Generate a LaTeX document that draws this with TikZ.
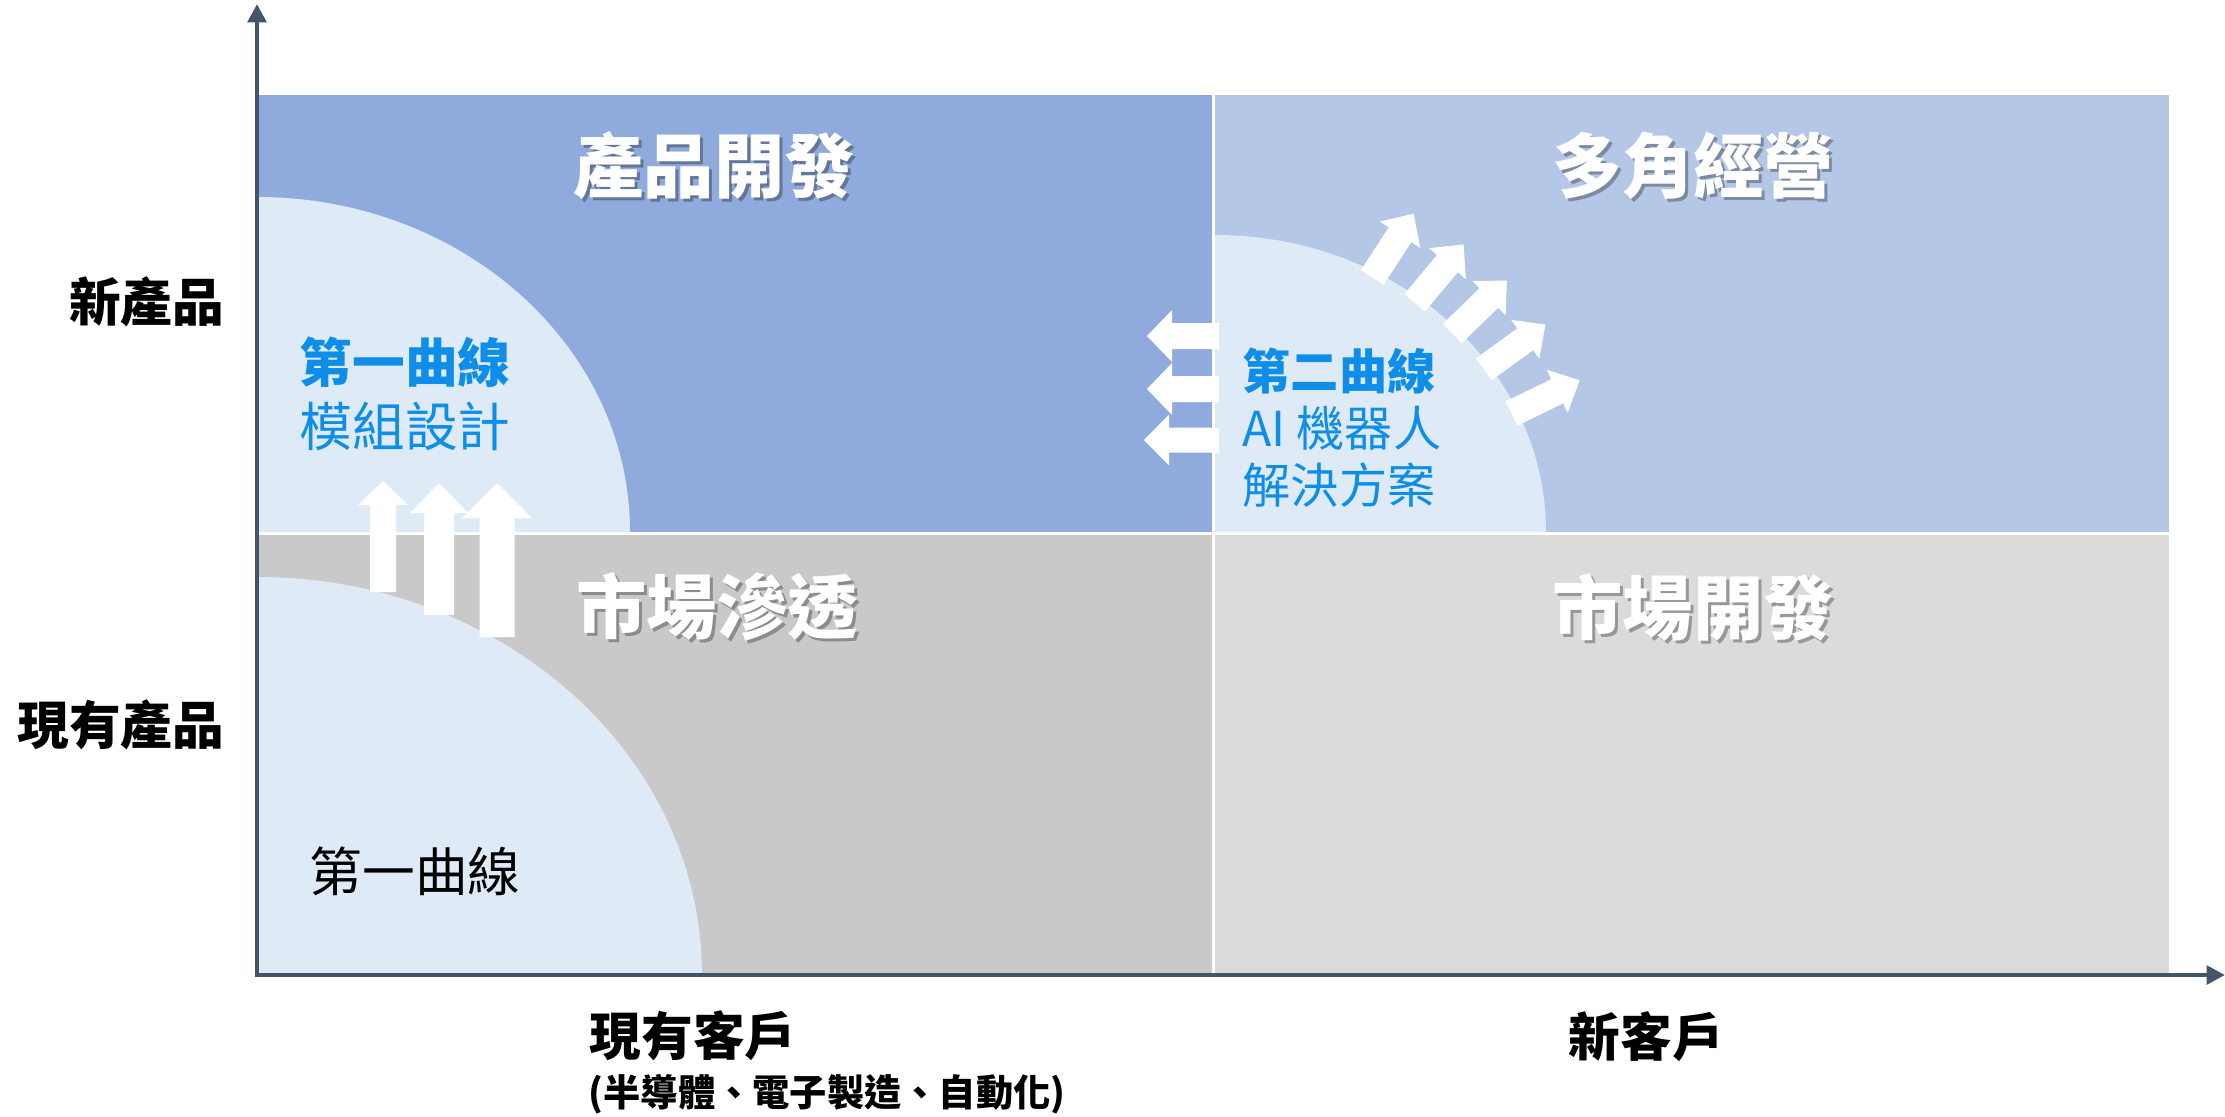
\documentclass[tikz,border=0pt]{standalone}
\usepackage{fontspec}
\setmainfont{Noto Sans CJK TC}
\usetikzlibrary{arrows.meta}
\definecolor{quadTL}{HTML}{8FAADC}
\definecolor{quadTR}{HTML}{B4C7E7}
\definecolor{quadBL}{HTML}{C9C9C9}
\definecolor{quadBR}{HTML}{DBDBDB}
\definecolor{curvefill}{HTML}{DEEBF7}
\definecolor{axisgray}{HTML}{44546A}
\definecolor{curveblue}{HTML}{0F8EE9}
\tikzset{
  axis/.style={draw=axisgray, line width=1.4pt, line cap=rect, -{Triangle[width=5.2pt,length=5.2pt]}},
  quadtitle/.style={text=white, inner sep=0pt, font=\bfseries\fontsize{20pt}{24pt}\selectfont},
  titleshade/.style={quadtitle, text=black, text opacity=0.3},
  axislabel/.style={inner sep=0pt, font=\bfseries\fontsize{14.7pt}{17pt}\selectfont},
  sublabel/.style={inner sep=0pt, font=\bfseries\fontsize{10.6pt}{13pt}\selectfont},
  curvelabel/.style={text=curveblue, align=left, anchor=west, inner sep=0pt},
  pics/fatarrow/.style n args={4}{code={
    \fill[white] (0,-#2) -- ({#1-#4},-#2) -- ({#1-#4},-#3) -- (#1,0) -- ({#1-#4},#3) -- ({#1-#4},#2) -- (0,#2) -- cycle;
  }}
}
\begin{document}
\begin{tikzpicture}
\useasboundingbox (-2.57,-1.41) rectangle (19.68,9.75);
% quadrants
\fill[quadTL] (0,4.43) rectangle (9.55,8.80);
\fill[quadTR] (9.58,4.43) rectangle (19.12,8.80);
\fill[quadBL] (0,0) rectangle (9.55,4.40);
\fill[quadBR] (9.58,0) rectangle (19.12,4.40);
% curves
\fill[curvefill] (0,4.43) -- (3.73,4.43) arc[start angle=0,end angle=90,x radius=3.73,y radius=3.35] -- cycle;
\fill[curvefill] (9.58,4.43) -- (12.89,4.43) arc[start angle=0,end angle=90,x radius=3.31,y radius=2.97] -- cycle;
\fill[curvefill] (0,0) -- (4.45,0) arc[start angle=0,end angle=90,x radius=4.45,y radius=3.98] -- cycle;
% arrows
\pic[rotate=90] at (1.26,3.83) {fatarrow={1.11}{0.13}{0.25}{0.24}};
\pic[rotate=90] at (1.82,3.60) {fatarrow={1.32}{0.15}{0.29}{0.30}};
\pic[rotate=90] at (2.40,3.38) {fatarrow={1.54}{0.175}{0.35}{0.35}};
\pic[rotate=180] at (9.62,6.39) {fatarrow={0.72}{0.13}{0.26}{0.25}};
\pic[rotate=180] at (9.62,5.86) {fatarrow={0.72}{0.13}{0.26}{0.25}};
\pic[rotate=180] at (9.62,5.35) {fatarrow={0.75}{0.125}{0.255}{0.25}};
\foreach \t/\a in {61/57,52/50,43/44,34/36,24/26}
  \pic[rotate=\a] at ({9.58+0.98*3.31*cos(\t)},{4.43+0.98*2.97*sin(\t)}) {fatarrow={0.76}{0.135}{0.24}{0.25}};
% axes
\coordinate (origin) at (0,0);
\coordinate (ytip) at (0,9.71);
\coordinate (xtip) at (19.68,0);
\draw[axis] (origin) -- (ytip);
\draw[axis] (origin) -- (xtip);
% quadrant titles
\node[titleshade] (tlshade) at (4.60,8.06) {產品開發};
\node[quadtitle] (tltitle) at (4.57,8.09) {產品開發};
\node[titleshade] (trshade) at (14.39,8.06) {多角經營};
\node[quadtitle] (trtitle) at (14.36,8.09) {多角經營};
\node[titleshade] (blshade) at (4.63,3.65) {市場滲透};
\node[quadtitle] (bltitle) at (4.60,3.68) {市場滲透};
\node[titleshade] (brshade) at (14.39,3.65) {市場開發};
\node[quadtitle] (brtitle) at (14.36,3.68) {市場開發};
% axis labels
\node[axislabel, anchor=east] (newprod) at (-0.32,6.73) {新產品};
\node[axislabel, anchor=east] (curprod) at (-0.32,2.50) {現有產品};
\node[axislabel, anchor=west] (curcust) at (3.32,-0.61) {現有客戶};
\node[sublabel, anchor=west] (industries) at (3.31,-1.19) {(半導體、電子製造、自動化)};
\node[axislabel, anchor=west] (newcust) at (13.11,-0.62) {新客戶};
% curve labels
\node[curvelabel, font=\fontsize{15pt}{18.2pt}\selectfont] (curveone) at (0.42,5.81) {\textbf{第一曲線}\\模組設計};
\node[curvelabel, font=\fontsize{13.7pt}{16.2pt}\selectfont] (curvetwo) at (9.85,5.47) {\textbf{第二曲線}\\AI 機器人\\解決方案};
\node[inner sep=0pt, anchor=west, font=\fontsize{15pt}{18pt}\selectfont] (curvebase) at (0.52,1.04) {第一曲線};
\end{tikzpicture}
\end{document}
